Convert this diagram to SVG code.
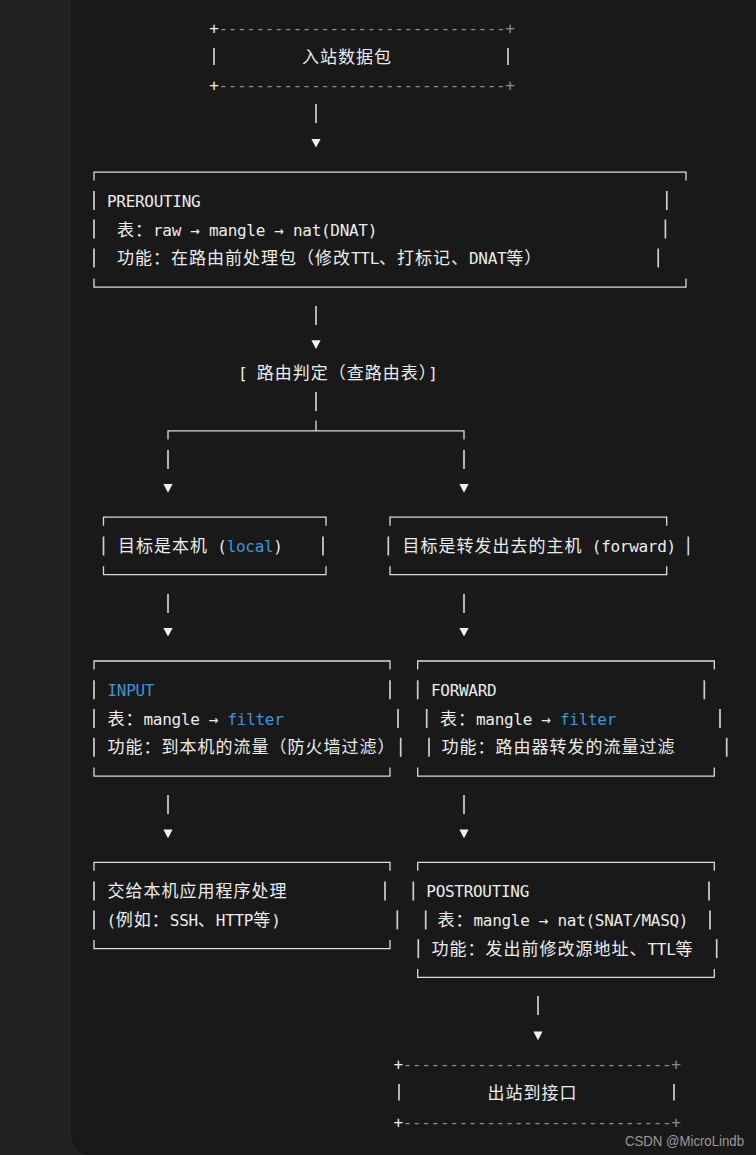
<svg xmlns="http://www.w3.org/2000/svg" xmlns:xlink="http://www.w3.org/1999/xlink" width="756" height="1155" viewBox="0 0 756 1155">
<defs>
<style>
.t{font-family:"Noto Sans CJK SC","Noto Sans",sans-serif;font-size:17px;fill:#ececec;letter-spacing:1px;white-space:pre}
.m{font-family:"DejaVu Sans Mono","Liberation Mono",monospace;font-size:16px;letter-spacing:-0.3px}
.bl{fill:#3b97dc}
.g{fill:#8c8c8c}
.w{fill:#ececec}
.ln{fill:none;stroke:#dcdcdc;stroke-width:1.3}
.vb{stroke:#cfcfcf;stroke-width:1.7}
.wm{font-family:"Liberation Sans","Noto Sans CJK SC",sans-serif;font-size:14px;fill:#9a9a9a}
</style>
<path id="tri" d="M-4.6,-4.4 L4.6,-4.4 L0,4.2 Z" fill="#f2f2f2"/>
</defs>
<rect x="0" y="0" width="756" height="1155" fill="#222222"/>
<path d="M71,0 H756 V1155 H91 A20,20 0 0 1 71,1135 Z" fill="#191919"/>

<g id="connectors">
<line class="vb" x1="316" y1="104" x2="316" y2="123"/>
<use xlink:href="#tri" x="316" y="143.3"/>
<line class="vb" x1="316" y1="306" x2="316" y2="325"/>
<use xlink:href="#tri" x="316" y="344.7"/>
<line class="vb" x1="316" y1="392" x2="316" y2="411"/>
<path class="ln" d="M168,439.5 V430.9 H464 V439.5 M316,420.5 V430.9"/>
<line class="vb" x1="168" y1="450" x2="168" y2="469"/>
<line class="vb" x1="464" y1="450" x2="464" y2="469"/>
<use xlink:href="#tri" x="168" y="488.5"/>
<use xlink:href="#tri" x="464" y="488.5"/>
<line class="vb" x1="168" y1="594" x2="168" y2="613"/>
<line class="vb" x1="464" y1="594" x2="464" y2="613"/>
<use xlink:href="#tri" x="168" y="632.3"/>
<use xlink:href="#tri" x="464" y="632.3"/>
<line class="vb" x1="168" y1="795" x2="168" y2="814"/>
<line class="vb" x1="464" y1="795" x2="464" y2="814"/>
<use xlink:href="#tri" x="168" y="834"/>
<use xlink:href="#tri" x="464" y="834"/>
<line class="vb" x1="538" y1="996" x2="538" y2="1015"/>
<use xlink:href="#tri" x="538" y="1036"/>
</g>

<g id="inbound">
<text class="t m" x="209.3" y="33.5" textLength="305.3" lengthAdjust="spacing"><tspan class="w">+</tspan><tspan class="g">-------------------------------+</tspan></text>
<line class="vb" x1="214" y1="48" x2="214" y2="65"/>
<line class="vb" x1="508" y1="48" x2="508" y2="65"/>
<text class="t" x="302" y="63">入站数据包</text>
<text class="t m" x="209.3" y="91" textLength="305.3" lengthAdjust="spacing"><tspan class="w">+</tspan><tspan class="g">-------------------------------+</tspan></text>
</g>

<g id="prerouting">
<path class="ln" d="M94,180.6 V172.1 H686 V180.6"/>
<line class="vb" x1="94" y1="191" x2="94" y2="210"/>
<line class="vb" x1="666.8" y1="191" x2="666.8" y2="210"/>
<text class="t" x="107" y="206.5"><tspan class="m">PREROUTING</tspan></text>
<line class="vb" x1="94" y1="219.5" x2="94" y2="238.5"/>
<line class="vb" x1="665.4" y1="219.5" x2="665.4" y2="238.5"/>
<text class="t" x="117" y="235.5">表：<tspan class="m">raw → mangle → nat(DNAT)</tspan></text>
<line class="vb" x1="94" y1="248.5" x2="94" y2="267.5"/>
<line class="vb" x1="658.2" y1="248.5" x2="658.2" y2="267.5"/>
<text class="t" x="117" y="264.4">功能：在路由前处理包（修改<tspan class="m">TTL</tspan>、打标记、<tspan class="m">DNAT</tspan>等）</text>
<path class="ln" d="M94,278.6 V287.1 H686 V278.6"/>
</g>

<g id="routing-decision">
<text class="t" x="238" y="379.4"><tspan class="m">[ </tspan>路由判定（查路由表）<tspan class="m">]</tspan></text>
</g>

<g id="local">
<path class="ln" d="M103.5,525.7 V517.2 H326 V525.7"/>
<line class="vb" x1="103.5" y1="536.5" x2="103.5" y2="555.5"/>
<line class="vb" x1="323" y1="536.5" x2="323" y2="555.5"/>
<text class="t" x="118" y="552">目标是本机<tspan class="m"> (<tspan class="bl">local</tspan>)</tspan></text>
<path class="ln" d="M103.5,566.2 V574.7 H326 V566.2"/>
</g>

<g id="forward-dest">
<path class="ln" d="M390,525.7 V517.2 H666.7 V525.7"/>
<line class="vb" x1="388.3" y1="536.5" x2="388.3" y2="555.5"/>
<line class="vb" x1="688.3" y1="536.5" x2="688.3" y2="555.5"/>
<text class="t" x="402.5" y="552">目标是转发出去的主机<tspan class="m"> (forward)</tspan></text>
<path class="ln" d="M390,566.2 V574.7 H666.7 V566.2"/>
</g>

<g id="input">
<path class="ln" d="M94,669.5 V661 H390 V669.5"/>
<line class="vb" x1="94" y1="680.3" x2="94" y2="699.3"/>
<line class="vb" x1="390" y1="680.3" x2="390" y2="699.3"/>
<text class="t" x="107.5" y="695.8"><tspan class="m bl">INPUT</tspan></text>
<line class="vb" x1="94" y1="709" x2="94" y2="728"/>
<line class="vb" x1="398" y1="709" x2="398" y2="728"/>
<text class="t" x="107.5" y="724.5">表：<tspan class="m">mangle → <tspan class="bl">filter</tspan></tspan></text>
<line class="vb" x1="94" y1="737.8" x2="94" y2="756.8"/>
<line class="vb" x1="400.7" y1="737.8" x2="400.7" y2="756.8"/>
<text class="t" x="107.5" y="753.3">功能：到本机的流量（防火墙过滤）</text>
<path class="ln" d="M94,767.6 V776.1 H390 V767.6"/>
</g>

<g id="forward">
<path class="ln" d="M417.7,669.5 V661 H714.3 V669.5"/>
<line class="vb" x1="417.7" y1="680.3" x2="417.7" y2="699.3"/>
<line class="vb" x1="704.3" y1="680.3" x2="704.3" y2="699.3"/>
<text class="t" x="431" y="695.8"><tspan class="m">FORWARD</tspan></text>
<line class="vb" x1="426.7" y1="709" x2="426.7" y2="728"/>
<line class="vb" x1="720" y1="709" x2="720" y2="728"/>
<text class="t" x="440" y="724.5">表：<tspan class="m">mangle → <tspan class="bl">filter</tspan></tspan></text>
<line class="vb" x1="429" y1="737.8" x2="429" y2="756.8"/>
<line class="vb" x1="726.7" y1="737.8" x2="726.7" y2="756.8"/>
<text class="t" x="441.5" y="753.3">功能：路由器转发的流量过滤</text>
<path class="ln" d="M417.7,767.6 V776.1 H714.3 V767.6"/>
</g>

<g id="local-app">
<path class="ln" d="M94,870.8 V862.3 H390 V870.8"/>
<line class="vb" x1="94" y1="881.6" x2="94" y2="900.6"/>
<line class="vb" x1="385" y1="881.6" x2="385" y2="900.6"/>
<text class="t" x="107.5" y="897.1">交给本机应用程序处理</text>
<line class="vb" x1="94" y1="910.4" x2="94" y2="929.4"/>
<line class="vb" x1="397.3" y1="910.4" x2="397.3" y2="929.4"/>
<text class="t" x="106.5" y="925.9"><tspan class="m">(</tspan>例如：<tspan class="m">SSH</tspan>、<tspan class="m">HTTP</tspan>等<tspan class="m">)</tspan></text>
<path class="ln" d="M94,940.1 V948.6 H390 V940.1"/>
</g>

<g id="postrouting">
<path class="ln" d="M417.7,870.8 V862.3 H714.3 V870.8"/>
<line class="vb" x1="413.3" y1="881.6" x2="413.3" y2="900.6"/>
<line class="vb" x1="709" y1="881.6" x2="709" y2="900.6"/>
<text class="t" x="426.3" y="897.1"><tspan class="m">POSTROUTING</tspan></text>
<line class="vb" x1="425.7" y1="910.4" x2="425.7" y2="929.4"/>
<line class="vb" x1="710" y1="910.4" x2="710" y2="929.4"/>
<text class="t" x="437.5" y="925.9">表：<tspan class="m">mangle → nat(SNAT/MASQ)</tspan></text>
<line class="vb" x1="418.3" y1="939.1" x2="418.3" y2="958.1"/>
<line class="vb" x1="716.7" y1="939.1" x2="716.7" y2="958.1"/>
<text class="t" x="431.5" y="954.6">功能：发出前修改源地址、<tspan class="m">TTL</tspan>等</text>
<path class="ln" d="M417.7,968.9 V977.4 H714.3 V968.9"/>
</g>

<g id="outbound">
<text class="t m" x="393.6" y="1070.3" textLength="287" lengthAdjust="spacing"><tspan class="w">+</tspan><tspan class="g">-----------------------------+</tspan></text>
<line class="vb" x1="399" y1="1084" x2="399" y2="1100.5"/>
<line class="vb" x1="674" y1="1084" x2="674" y2="1100.5"/>
<text class="t" x="487.5" y="1098.5">出站到接口</text>
<text class="t m" x="393.6" y="1127.5" textLength="287" lengthAdjust="spacing"><tspan class="w">+</tspan><tspan class="g">-----------------------------+</tspan></text>
</g>

<text class="wm" x="625" y="1146" textLength="119" lengthAdjust="spacingAndGlyphs">CSDN @MicroLindb</text>
</svg>
